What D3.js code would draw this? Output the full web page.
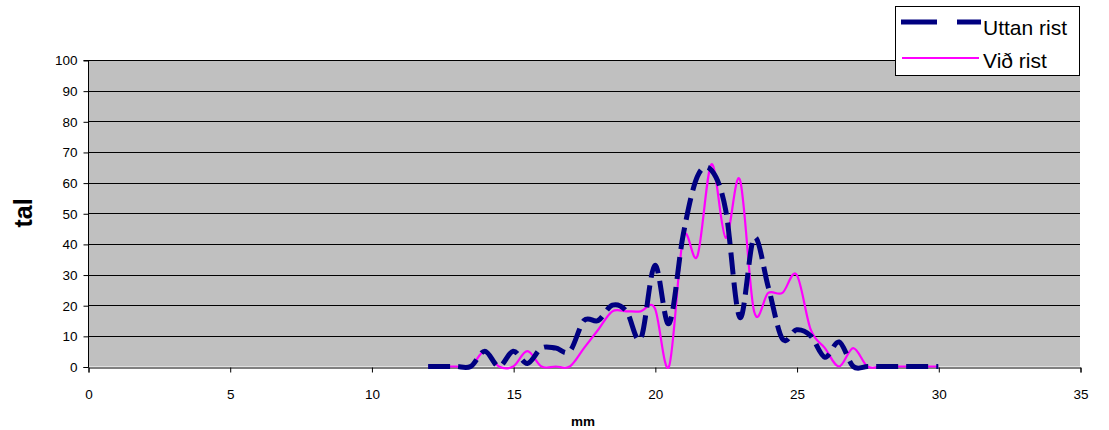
<!DOCTYPE html>
<html>
<head>
<meta charset="utf-8">
<script src="https://cdn.jsdelivr.net/npm/d3@7"></script>
<style>
  html, body { margin: 0; padding: 0; background: #fff; }
  svg { display: block; font-family: "Liberation Sans", Arial, sans-serif; }
</style>
</head>
<body>
<svg id="chart" width="1109" height="430"></svg>
<script>
// Length classes (mm)
const mm = [12, 12.5, 13, 13.5, 14, 14.5, 15, 15.5, 16, 16.5, 17, 17.5, 18, 18.5, 19, 19.5,
            20, 20.5, 21, 21.5, 22, 22.5, 23, 23.5, 24, 24.5, 25, 25.5, 26, 26.5, 27, 27.5,
            28, 28.5, 29, 29.5, 30];

// Counts per length class
const uttanRist = [0, 0, 0, 0, 5, 0, 5, 1, 6, 6, 5, 15, 15, 20, 18, 9,
                   33, 14, 43, 62, 64, 51, 16, 42, 26, 9, 12, 10, 3, 8, 0, 0,
                   0, 0, 0, 0, 0];
const vidRist   = [0, 0, 0, 0, 5, 0, 0, 5, 0, 0, 0, 6, 12, 18, 18, 18,
                   19, 0, 42, 36, 66, 42, 61, 18, 24, 24, 30, 12, 6, 0, 6, 0,
                   0, 0, 0, 0, 0];

const xTicks = [0, 5, 10, 15, 20, 25, 30, 35];
const yTicks = [0, 10, 20, 30, 40, 50, 60, 70, 80, 90, 100];

const seriesNames = ["Uttan rist", "Við rist"];
const seriesColors = ["#000080", "#FF00FF"];

const svg = d3.select("#chart");
const plot = { left: 88, right: 1080, top: 60, bottom: 366.5 };

const x = d3.scaleLinear().domain([0, 35]).range([plot.left, plot.right]);
const y = d3.scaleLinear().domain([0, 100]).range([plot.bottom, plot.top]);

// Plot background
svg.append("rect")
  .attr("x", plot.left).attr("y", plot.top)
  .attr("width", plot.right - plot.left).attr("height", plot.bottom - plot.top)
  .attr("fill", "#C0C0C0");

// Horizontal gridlines
svg.append("g")
  .selectAll("line")
  .data(yTicks.filter(d => d > 0))
  .join("line")
  .attr("x1", plot.left).attr("x2", plot.right)
  .attr("y1", d => Math.round(y(d)) + 0.5).attr("y2", d => Math.round(y(d)) + 0.5)
  .attr("stroke", "#000").attr("stroke-width", 1);

// Axes
const yAxis = d3.axisLeft(y).tickValues(yTicks).tickSize(5).tickPadding(6);
const xAxis = d3.axisBottom(x).tickValues(xTicks).tickSize(5).tickPadding(17);

const gy = svg.append("g")
  .attr("transform", `translate(${plot.left + 0.5},0.5)`)
  .call(yAxis);
const gx = svg.append("g")
  .attr("transform", `translate(0.5,${Math.round(plot.bottom) + 0.5})`)
  .call(xAxis);

[gy, gx].forEach(g => {
  g.selectAll("path.domain").attr("stroke", "#000");
  g.selectAll(".tick line").attr("stroke", "#000");
  g.selectAll(".tick text")
    .attr("fill", "#000")
    .style("font-family", "'Liberation Sans', Arial, sans-serif")
    .style("font-size", "13.5px");
});
gy.select("path.domain").attr("d", `M-5,${plot.top}H0V${Math.round(plot.bottom)}H-5`);

// Axis titles
svg.append("text")
  .attr("x", 583).attr("y", 426)
  .attr("text-anchor", "middle")
  .style("font-size", "13.5px").style("font-weight", "bold")
  .text("mm");

svg.append("text")
  .attr("transform", "translate(32,213) rotate(-90)")
  .attr("text-anchor", "middle")
  .style("font-size", "25px").style("font-weight", "bold")
  .text("tal");

// Smoothed series lines
const line = d3.line()
  .x(d => x(d[0]))
  .y(d => y(d[1]))
  .curve(d3.curveCardinal.tension(0));

svg.append("path")
  .datum(mm.map((m, i) => [m, vidRist[i]]))
  .attr("d", line)
  .attr("fill", "none")
  .attr("stroke", seriesColors[1])
  .attr("stroke-width", 2.2);

svg.append("path")
  .datum(mm.map((m, i) => [m, uttanRist[i]]))
  .attr("d", line)
  .attr("fill", "none")
  .attr("stroke", seriesColors[0])
  .attr("stroke-width", 5)
  .attr("stroke-dasharray", "22,8");

// Legend
const legend = svg.append("g");
legend.append("rect")
  .attr("x", 895.5).attr("y", 6.5)
  .attr("width", 184).attr("height", 69)
  .attr("fill", "#fff").attr("stroke", "#000").attr("stroke-width", 1);

legend.append("line")
  .attr("x1", 901).attr("x2", 981).attr("y1", 22).attr("y2", 22)
  .attr("stroke", seriesColors[0]).attr("stroke-width", 5)
  .attr("stroke-dasharray", "36,20");
legend.append("line")
  .attr("x1", 902).attr("x2", 979).attr("y1", 58).attr("y2", 58)
  .attr("stroke", seriesColors[1]).attr("stroke-width", 2.2);

legend.selectAll("text")
  .data(seriesNames)
  .join("text")
  .attr("x", 983)
  .attr("y", (d, i) => i === 0 ? 35 : 68)
  .style("font-size", "21px")
  .attr("fill", "#000")
  .text(d => d);
</script>
</body>
</html>
